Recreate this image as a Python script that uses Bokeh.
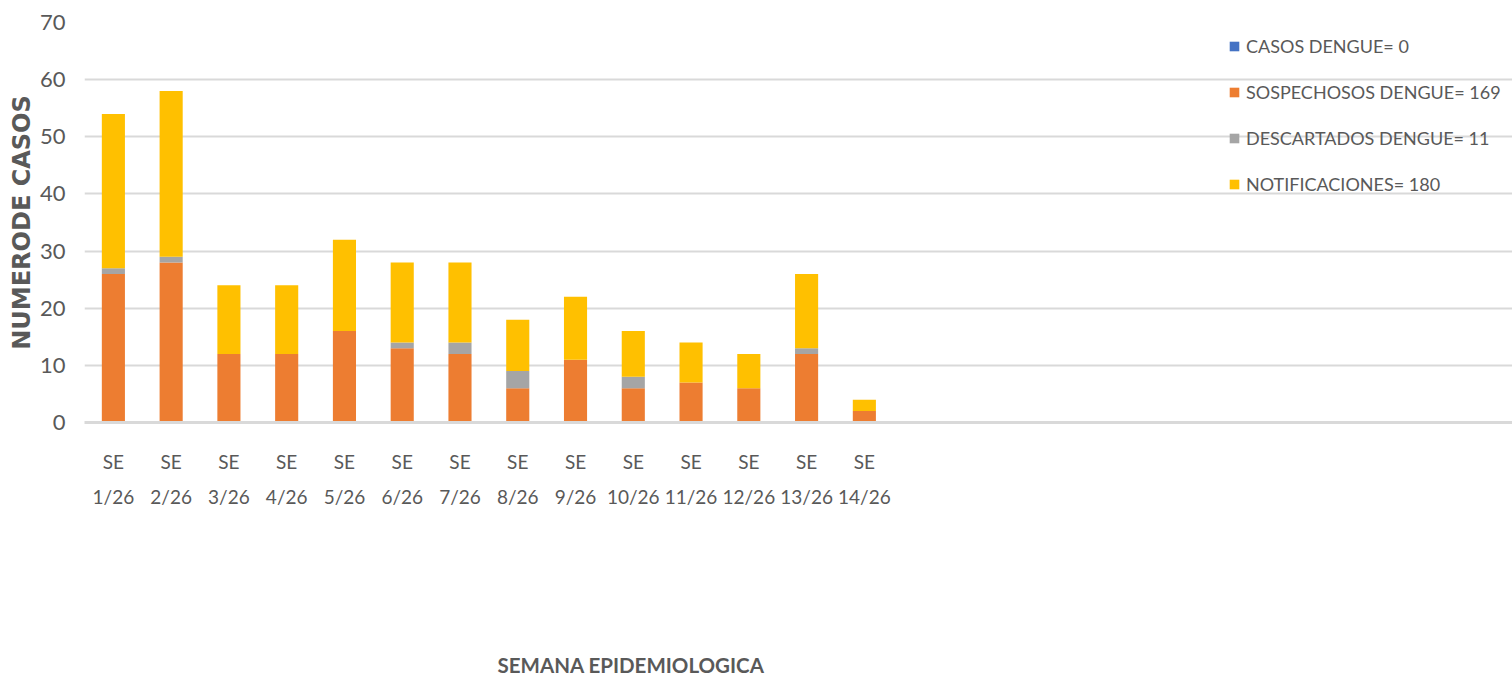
from bokeh.plotting import figure
from bokeh.models import FixedTicker, Legend, Title, Range1d
from bokeh.embed import file_html
from bokeh.resources import INLINE

weeks = ["1/26", "2/26", "3/26", "4/26", "5/26", "6/26", "7/26", "8/26", "9/26",
         "10/26", "11/26", "12/26", "13/26", "14/26"]
casos = [0, 0, 0, 0, 0, 0, 0, 0, 0, 0, 0, 0, 0, 0]
sospechosos = [26, 28, 12, 12, 16, 13, 12, 6, 11, 6, 7, 6, 12, 2]
descartados = [1, 1, 0, 0, 0, 1, 2, 3, 0, 2, 0, 0, 1, 0]
notificaciones = [27, 29, 12, 12, 16, 14, 14, 9, 11, 8, 7, 6, 13, 2]
labels = ["CASOS DENGUE= 0", "SOSPECHOSOS DENGUE= 169", "DESCARTADOS DENGUE= 11", "NOTIFICACIONES= 180"]
colors = ["#4472C4", "#ED7D31", "#A5A5A5", "#FFC000"]
y_ticks = [0, 10, 20, 30, 40, 50, 60, 70]

xs = list(range(1, len(weeks) + 1))
data = dict(x=xs, casos=casos, sosp=sospechosos, desc=descartados, noti=notificaciones)

FONT = "Lato"
GRAY = "#595959"

p = figure(width=1512, height=679, output_backend="svg", toolbar_location=None,
           x_range=Range1d(0.5, 25.22), y_range=Range1d(0, 70),
           min_border_left=84, min_border_right=0, min_border_top=22, min_border_bottom=257)
p.outline_line_color = None

rs = p.vbar_stack(["casos", "sosp", "desc", "noti"], x="x", width=0.4, source=data,
                  color=colors, line_color=None)

legend = Legend(items=[(lab, [r]) for lab, r in zip(labels, rs)],
                location=(1144, 224), orientation="vertical")
legend.background_fill_alpha = 0
legend.border_line_color = None
legend.padding = 0
legend.margin = 0
legend.spacing = 18
legend.glyph_width = 12
legend.glyph_height = 12
legend.label_height = 28
legend.label_standoff = 6
legend.label_text_font = FONT
legend.label_text_font_size = "18px"
legend.label_text_color = GRAY
p.add_layout(legend, "center")

p.xgrid.visible = False
p.ygrid.grid_line_color = "#D9D9D9"
p.ygrid.grid_line_width = 2
p.yaxis.ticker = FixedTicker(ticks=y_ticks)
p.yaxis.axis_line_color = None
p.yaxis.major_tick_line_color = None
p.yaxis.minor_tick_line_color = None
p.yaxis.major_tick_out = 0
p.yaxis.major_label_standoff = 19
p.yaxis.major_label_text_font = FONT
p.yaxis.major_label_text_font_size = "22px"
p.yaxis.major_label_text_color = GRAY
p.yaxis.axis_label = "NUMERODE CASOS"
p.yaxis.axis_label_text_font = "DejaVu Sans"
p.yaxis.axis_label_text_font_style = "bold"
p.yaxis.axis_label_text_font_size = "24px"
p.yaxis.axis_label_text_color = GRAY
p.yaxis.axis_label_standoff = 1

p.xaxis.ticker = FixedTicker(ticks=xs)
p.xaxis.major_label_overrides = {x: "SE\n" + w for x, w in zip(xs, weeks)}
p.xaxis.axis_line_color = "#D9D9D9"
p.xaxis.axis_line_width = 3
p.xaxis.major_tick_line_color = None
p.xaxis.minor_tick_line_color = None
p.xaxis.major_tick_out = 0
p.xaxis.major_label_standoff = 27
p.xaxis.major_label_text_font = FONT
p.xaxis.major_label_text_font_size = "19px"
p.xaxis.major_label_text_color = GRAY
p.xaxis.major_label_text_line_height = 1.53
# blank axis label used only as vertical spacing before the title
p.xaxis.axis_label = " "
p.xaxis.axis_label_text_font_size = "21px"
p.xaxis.axis_label_standoff = 114

t = Title(text="SEMANA EPIDEMIOLOGICA", align="left", offset=413, standoff=0,
          text_font=FONT, text_font_style="bold", text_font_size="20.5px", text_color=GRAY)
p.add_layout(t, "below")

open("out.html", "w").write(file_html(p, INLINE))
